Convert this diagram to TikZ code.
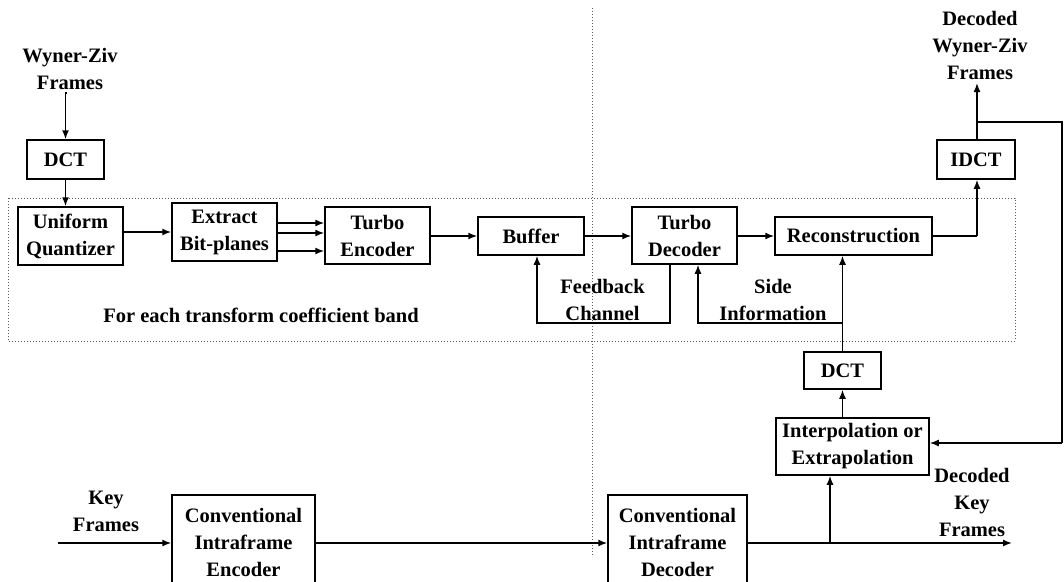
\documentclass[tikz,border=0pt]{standalone}
\usepackage{fontspec}
\setmainfont{Liberation Serif}
\usetikzlibrary{arrows.meta,calc}
\begin{document}
\begin{tikzpicture}[x=1pt,y=-1pt,
  font=\fontsize{20.5}{27}\selectfont\bfseries,
  box/.style={draw, line width=1.5pt, inner sep=0pt, align=center},
  txt/.style={inner sep=0pt, align=center},
  arr/.style={line width=1.5pt, -{Latex[length=9pt,width=7pt]}},
  ln/.style={line width=1.5pt},
  dotbox/.style={gray!70!black, line width=1pt, dotted}]
\useasboundingbox (0,0) rectangle (1064,581);
% dotted regions
\draw[dotbox] (8,198) rectangle (1015,341);
\draw[dotbox] (592,8) -- (592,557);
% boxes
\node[box, minimum width=77pt, minimum height=39pt] (dct1) at (65.5,159.5) {DCT};
\node[box, minimum width=105pt, minimum height=58pt] (uq) at (70.5,236) {Uniform\\Quantizer};
\node[box, minimum width=105pt, minimum height=58pt] (ebp) at (224.5,232) {Extract\\Bit-planes};
\node[box, minimum width=105pt, minimum height=57pt] (te) at (377.5,235.5) {Turbo\\Encoder};
\node[box, minimum width=106pt, minimum height=38pt] (buf) at (531,236) {Buffer};
\node[box, minimum width=105pt, minimum height=57pt] (td) at (684.5,235.5) {Turbo\\Decoder};
\node[box, minimum width=157pt, minimum height=38pt] (rec) at (853.5,236) {Reconstruction};
\node[box, minimum width=78pt, minimum height=39pt] (idct) at (976,159.5) {IDCT};
\node[box, minimum width=77pt, minimum height=37pt] (dct2) at (842.5,370.5) {DCT};
\node[box, minimum width=153pt, minimum height=57pt] (interp) at (852.5,446.5) {Interpolation or\\Extrapolation};
\node[box, minimum width=143pt, minimum height=94pt] (enc) at (243.5,542) {Conventional\\Intraframe\\Encoder};
\node[box, minimum width=139pt, minimum height=94pt] (dec) at (677.5,542) {Conventional\\Intraframe\\Decoder};
% texts
\node[txt] (wz) at (70,69) {Wyner-Ziv\\Frames};
\node[txt] (dwz) at (980,45) {Decoded\\Wyner-Ziv\\Frames};
\node[txt] (fb) at (602.5,299.5) {Feedback\\Channel};
\node[txt] (si) at (773,299.5) {Side\\Information};
\node[txt] (band) at (261,315) {For each transform coefficient band};
\node[txt] (kf) at (106,511.5) {Key\\Frames};
\node[txt] (dkf) at (972,502) {Decoded\\Key\\Frames};
% coordinates
\coordinate (wzin) at (66,93);
\coordinate (dwzout) at (977,83);
\coordinate (br1) at (977,122);
\coordinate (br2) at (1062,122);
\coordinate (br3) at (1062,443);
\coordinate (recout) at (977,236);
\coordinate (fbc) at (670,323);
\coordinate (fbl) at (537,323);
\coordinate (sic) at (698,323);
\coordinate (kin) at (58,543);
\coordinate (kout) at (1012,543);
\coordinate (tap) at (830,543);
% connectors
\draw[arr] (wzin) -- (dct1.north |- wzin) -- (dct1.north);
\draw[arr] (dct1.south) -- (dct1.south |- uq.north);
\draw[arr] (uq.east |- ebp.east) -- (ebp.west);
\draw[arr] ($(ebp.east)+(0,-9)$) coordinate (e1) -- (e1 -| te.west);
\draw[arr] ($(ebp.east)+(0,1)$) coordinate (e2) -- (e2 -| te.west);
\draw[arr] ($(ebp.east)+(0,19)$) coordinate (e3) -- (e3 -| te.west);
\draw[arr] (te.east |- buf.east) -- (buf.west);
\draw[arr] (buf.east) -- (buf.east -| td.west);
\draw[arr] (td.east |- rec.west) -- (rec.west);
\draw[ln] (rec.east) -- (recout);
\draw[arr] (recout) -- (recout |- idct.south);
\draw[arr] (idct.north -| dwzout) -- (dwzout);
\draw[ln] (br1) -- (br2) -- (br3);
\draw[arr] (br3) -- (br3 -| interp.east);
\draw[arr] (fbc |- td.south) -- (fbc) -- (fbl) -- (fbl |- buf.south);
\draw[arr] (dct2.north) -- (dct2.north |- rec.south);
\draw[arr] (dct2.north |- sic) -- (sic) -- (sic |- td.south);
\draw[arr] (dct2.south |- interp.north) -- (dct2.south);
\draw[arr] (tap) -- (tap |- interp.south);
\draw[arr] (kin) -- (kin -| enc.west);
\draw[arr] (enc.east |- kin) -- (kin -| dec.west);
\draw[arr] (dec.east |- kout) -- (kout);
\end{tikzpicture}
\end{document}
